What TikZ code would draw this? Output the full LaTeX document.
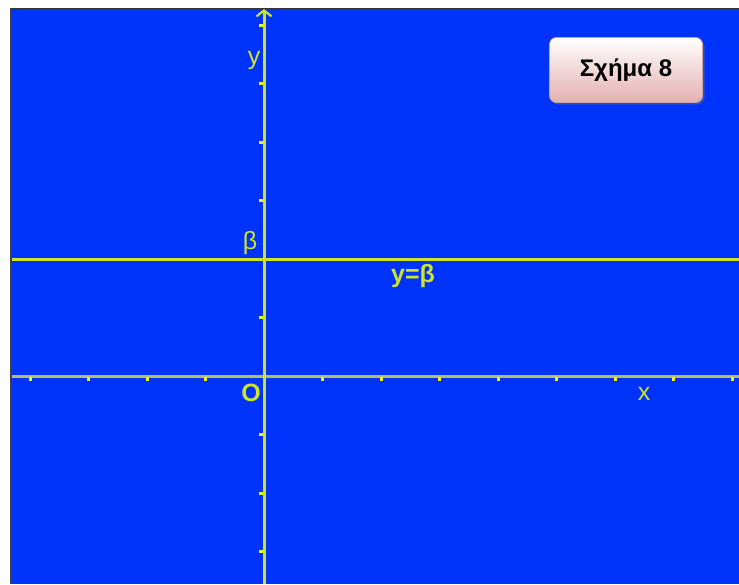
\documentclass[tikz,border=0pt]{standalone}
\usepackage{fontspec}
\setmainfont{Liberation Sans}
\usetikzlibrary{arrows.meta,shadows}

\definecolor{panelblue}{RGB}{0,51,250}
\definecolor{axisyellow}{RGB}{205,228,40}
\definecolor{xaxisolive}{RGB}{182,192,96}
\definecolor{tickyellow}{RGB}{240,245,30}
\definecolor{boxpink}{RGB}{228,176,176}

\tikzset{
  axis/.style={axisyellow, line width=3pt},
  tickmark/.style={tickyellow, line width=3pt},
  lbl/.style={text=axisyellow, inner sep=0pt, font=\fontsize{25}{29}\selectfont},
  figbox/.style={draw=boxpink!80!gray, line width=0.8pt, rounded corners=7pt,
    top color=white, bottom color=boxpink, minimum width=153pt, minimum height=65pt,
    drop shadow={shadow xshift=2pt, shadow yshift=-2pt, opacity=0.35},
    font=\fontsize{24}{28}\selectfont\bfseries, text=black}
}

\begin{document}
\begin{tikzpicture}[x=1pt,y=-1pt]
  \useasboundingbox (0,0) rectangle (739,584);

  % Background panel
  \fill[panelblue] (11,8) rectangle (739,584);
  \draw[gray!50!black, line width=2pt] (11,584) -- (11,8);
  \draw[gray!40!black, line width=1pt] (11,8) -- (739,8);

  % Axes
  \coordinate (O) at (264,376);
  \coordinate (xleft) at (12,376);
  \coordinate (xright) at (739,376);
  \coordinate (ybottom) at (264,584);
  \coordinate (ytop) at (264,9);
  \draw[axis, xaxisolive] (xleft) -- (xright);
  \draw[axis, -{Straight Barb[length=6pt,width=15pt,line width=2.2pt]}] (ybottom) -- (ytop);

  % Ticks on the axes
  \foreach \i in {-4,...,-1,1,2,...,8} {
    \draw[tickmark] (264+\i*58.5,377) -- ++(0,4);
  }
  \foreach \j in {-3,...,-1,1,2,...,6} {
    \draw[tickmark] (263,376-\j*58.5) -- ++(-4,0);
  }

  % Line y = beta
  \coordinate (bleft) at (12,259);
  \coordinate (bright) at (739,259);
  \draw[axis] (bleft) -- (bright);

  % Labels
  \node[lbl] (ylabel) at (254,60) {y};
  \node[lbl] (betalabel) at (250,243) {β};
  \node[lbl, font=\fontsize{25}{29}\selectfont\bfseries] (linelabel) at (413,276) {y=β};
  \node[lbl, font=\fontsize{25}{29}\selectfont\bfseries] (olabel) at (251,393) {O};
  \node[lbl] (xlabel) at (644,394) {x};

  % Figure caption box
  \node[figbox] (caption) at (626,70) {Σχήμα 8};
\end{tikzpicture}
\end{document}
